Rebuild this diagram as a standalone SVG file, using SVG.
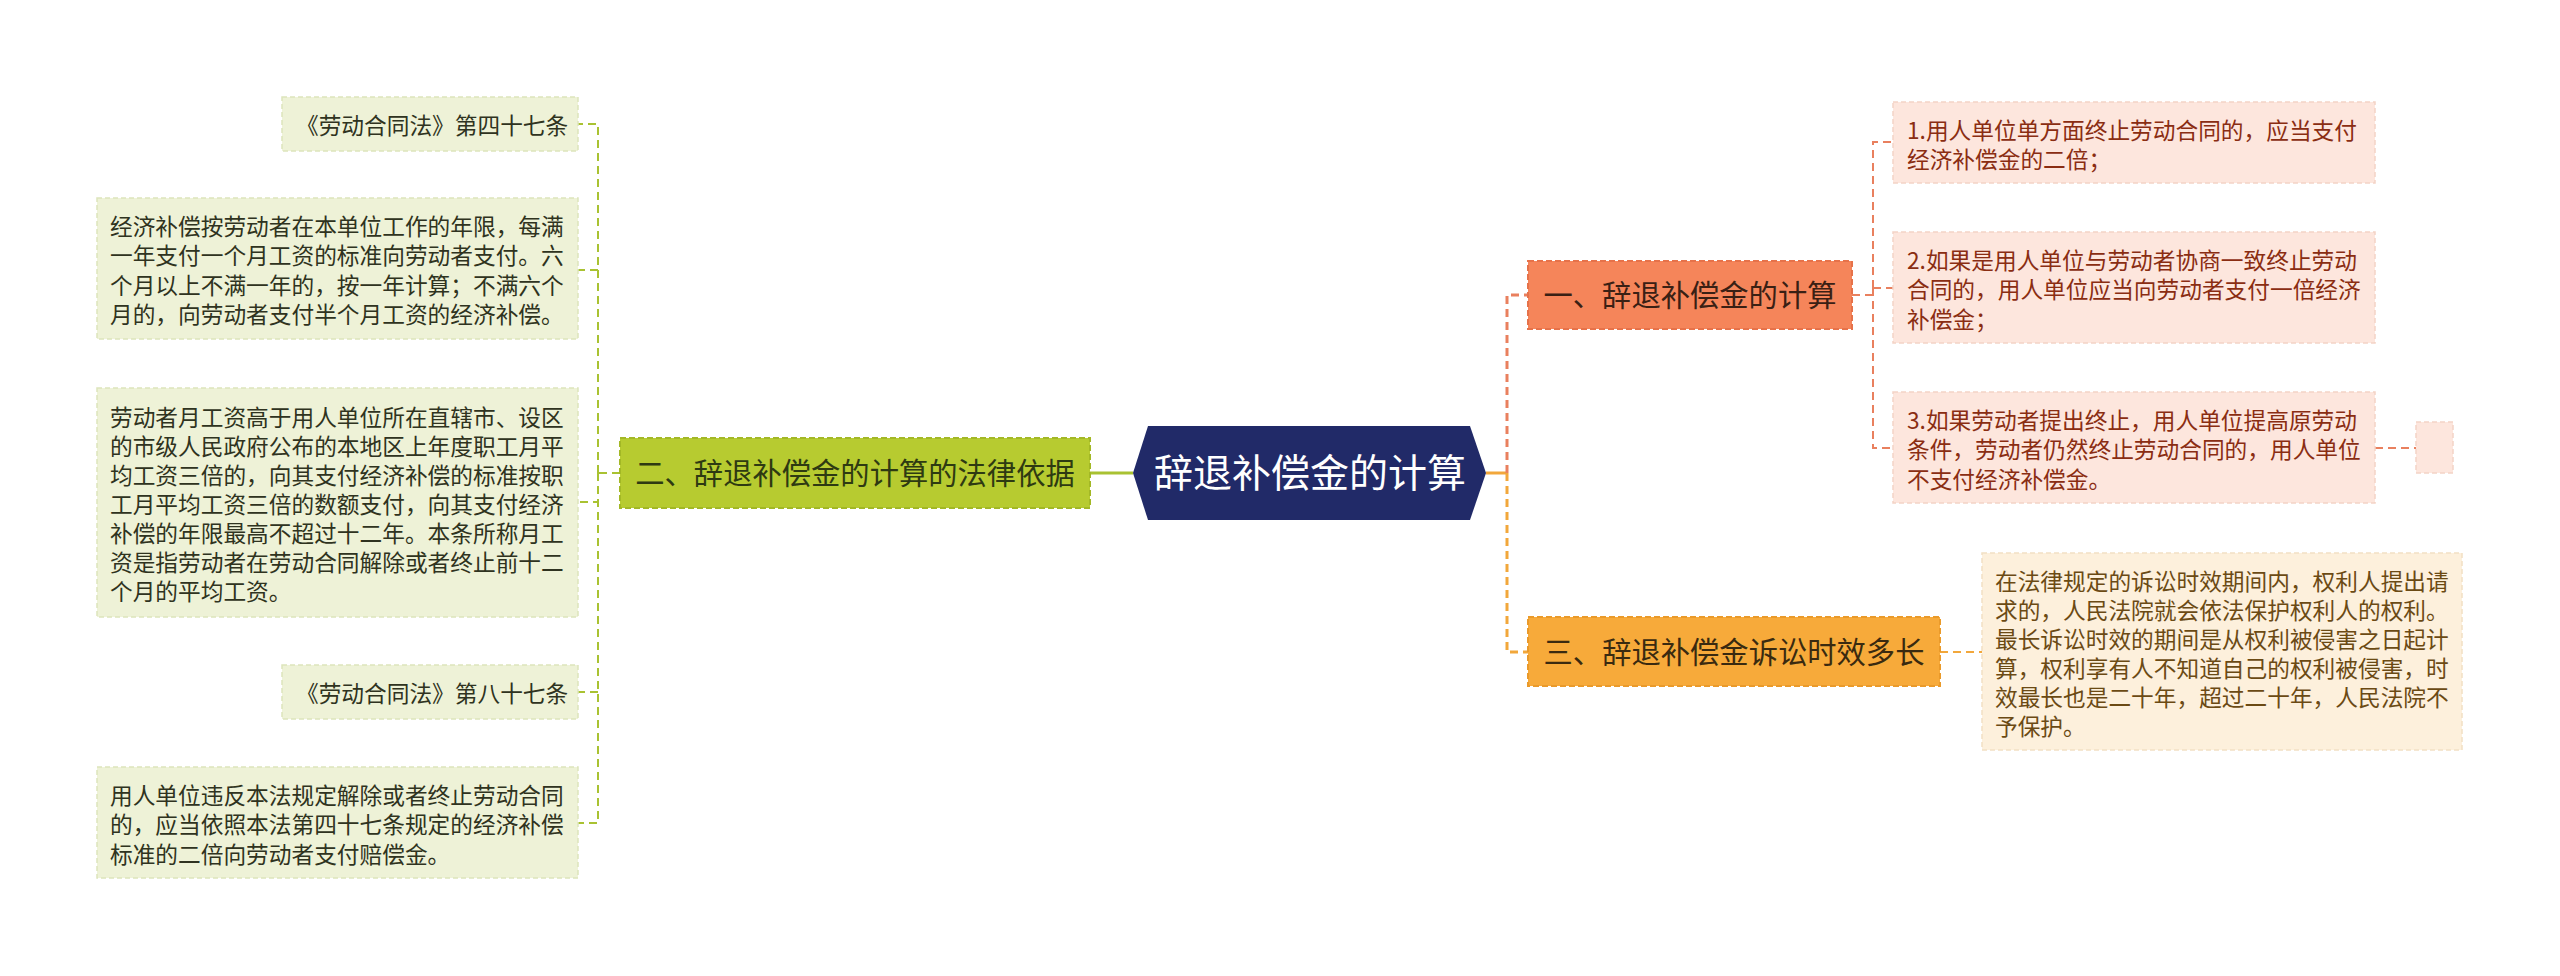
<svg xmlns="http://www.w3.org/2000/svg" width="2560" height="976" viewBox="0 0 2560 976">
<style>
  text { font-family: "Noto Sans CJK SC", "Noto Sans", sans-serif; }
  .leaf { font-size: 22.7px; }
  .ta { fill: #2f3320; }
  .tb { fill: #8a2d12; }
  .tc { fill: #6b4a14; }
  .tn { font-size: 29.3px; text-anchor: middle; }
  .boxA { fill: #eef2d7; stroke: #dde5bc; stroke-width: 1.5; stroke-dasharray: 5 3; }
  .boxB { fill: #fde6dd; stroke: #f4d3c6; stroke-width: 1.5; stroke-dasharray: 5 3; }
  .boxC { fill: #fdf0dc; stroke: #f2e0c4; stroke-width: 1.5; stroke-dasharray: 5 3; }
  .cg { fill: none; stroke: #a9c232; stroke-width: 2; stroke-dasharray: 8 5; }
  .cr { fill: none; stroke: #e9805e; stroke-width: 2; stroke-dasharray: 8 5; }
  .cr3 { fill: none; stroke: #e9805e; stroke-width: 3; stroke-dasharray: 8 5; }
  .co3 { fill: none; stroke: #f2a73b; stroke-width: 3; stroke-dasharray: 8 5; }
  .co { fill: none; stroke: #f2a73b; stroke-width: 2; stroke-dasharray: 8 5; }
</style>
<rect width="2560" height="976" fill="#ffffff"/>

<g id="connectors">
  <!-- left (green) -->
  <path class="cg" d="M620,473 H598"/>
  <path class="cg" d="M598,473 V124 H578"/>
  <path class="cg" d="M598,270 H578"/>
  <path class="cg" d="M598,473 V502 H578"/>
  <path class="cg" d="M598,473 V823 H578"/>
  <path class="cg" d="M598,692 H578"/>
  <path d="M1090,473 H1133" fill="none" stroke="#a9c232" stroke-width="3"/>
  <!-- right (orange) -->
  <path d="M1486,473 H1507" fill="none" stroke="#f2a73b" stroke-width="3"/>
  <path class="cr3" d="M1507,473 V295 H1528"/>
  <path class="co3" d="M1507,473 V652 H1528"/>
  <path class="cr" d="M1852,295 H1873"/>
  <path class="cr" d="M1873,288 V142 H1893"/>
  <path class="cr" d="M1873,288 H1893"/>
  <path class="cr" d="M1873,288 V448 H1893"/>
  <path class="cr" d="M2375,448 H2416"/>
  <path class="co" d="M1940,652 H1982"/>
</g>

<g id="root">
  <polygon points="1133,473 1148,426 1470,426 1486,473 1470,520 1148,520" fill="#212a68"/>
  <text x="1310" y="487" font-size="39" text-anchor="middle" fill="#ffffff">辞退补偿金的计算</text>
</g>

<g id="node-2">
  <rect x="620" y="438" width="470" height="70" fill="#b7cb30" stroke="#a3b826" stroke-width="2" stroke-dasharray="6 3"/>
  <text class="tn" x="855" y="484" fill="#2e3a12">二、辞退补偿金的计算的法律依据</text>
</g>

<g id="node-1">
  <rect x="1528" y="261" width="324" height="68" fill="#f5855a" stroke="#e6724a" stroke-width="2" stroke-dasharray="6 3"/>
  <text class="tn" x="1690" y="306" fill="#3a2014">一、辞退补偿金的计算</text>
</g>

<g id="node-3">
  <rect x="1528" y="617" width="412" height="69" fill="#f7aa3a" stroke="#ea9a2a" stroke-width="2" stroke-dasharray="6 3"/>
  <text class="tn" x="1734" y="663" fill="#3a2a10">三、辞退补偿金诉讼时效多长</text>
</g>

<g id="leaf-a1">
  <rect class="boxA" x="282" y="97" width="296" height="54"/>
  <text class="leaf ta" x="296" y="134">《劳动合同法》第四十七条</text>
</g>

<g id="leaf-a2">
  <rect class="boxA" x="97" y="198" width="481" height="141"/>
  <text class="leaf ta" x="110" y="235">经济补偿按劳动者在本单位工作的年限，每满</text>
  <text class="leaf ta" x="110" y="264.3">一年支付一个月工资的标准向劳动者支付。六</text>
  <text class="leaf ta" x="110" y="293.6">个月以上不满一年的，按一年计算；不满六个</text>
  <text class="leaf ta" x="110" y="322.9">月的，向劳动者支付半个月工资的经济补偿。</text>
</g>

<g id="leaf-a3">
  <rect class="boxA" x="97" y="388" width="481" height="229"/>
  <text class="leaf ta" x="110" y="426">劳动者月工资高于用人单位所在直辖市、设区</text>
  <text class="leaf ta" x="110" y="455">的市级人民政府公布的本地区上年度职工月平</text>
  <text class="leaf ta" x="110" y="484">均工资三倍的，向其支付经济补偿的标准按职</text>
  <text class="leaf ta" x="110" y="513">工月平均工资三倍的数额支付，向其支付经济</text>
  <text class="leaf ta" x="110" y="542">补偿的年限最高不超过十二年。本条所称月工</text>
  <text class="leaf ta" x="110" y="571">资是指劳动者在劳动合同解除或者终止前十二</text>
  <text class="leaf ta" x="110" y="600">个月的平均工资。</text>
</g>

<g id="leaf-a4">
  <rect class="boxA" x="282" y="665" width="296" height="54"/>
  <text class="leaf ta" x="296" y="702">《劳动合同法》第八十七条</text>
</g>

<g id="leaf-a5">
  <rect class="boxA" x="97" y="767" width="481" height="111"/>
  <text class="leaf ta" x="110" y="804">用人单位违反本法规定解除或者终止劳动合同</text>
  <text class="leaf ta" x="110" y="833.3">的，应当依照本法第四十七条规定的经济补偿</text>
  <text class="leaf ta" x="110" y="862.6">标准的二倍向劳动者支付赔偿金。</text>
</g>

<g id="leaf-b1">
  <rect class="boxB" x="1893" y="102" width="482" height="81"/>
  <text class="leaf tb" x="1907" y="139">1.用人单位单方面终止劳动合同的，应当支付</text>
  <text class="leaf tb" x="1907" y="168.3">经济补偿金的二倍；</text>
</g>

<g id="leaf-b2">
  <rect class="boxB" x="1893" y="232" width="482" height="111"/>
  <text class="leaf tb" x="1907" y="269">2.如果是用人单位与劳动者协商一致终止劳动</text>
  <text class="leaf tb" x="1907" y="298.3">合同的，用人单位应当向劳动者支付一倍经济</text>
  <text class="leaf tb" x="1907" y="327.6">补偿金；</text>
</g>

<g id="leaf-b3">
  <rect class="boxB" x="1893" y="392" width="482" height="111"/>
  <text class="leaf tb" x="1907" y="429">3.如果劳动者提出终止，用人单位提高原劳动</text>
  <text class="leaf tb" x="1907" y="458.3">条件，劳动者仍然终止劳动合同的，用人单位</text>
  <text class="leaf tb" x="1907" y="487.6">不支付经济补偿金。</text>
</g>

<g id="leaf-b3-child">
  <rect class="boxB" x="2416" y="422" width="37" height="51"/>
</g>

<g id="leaf-c1">
  <rect class="boxC" x="1982" y="553" width="480" height="197"/>
  <text class="leaf tc" x="1995" y="590">在法律规定的诉讼时效期间内，权利人提出请</text>
  <text class="leaf tc" x="1995" y="619">求的，人民法院就会依法保护权利人的权利。</text>
  <text class="leaf tc" x="1995" y="648">最长诉讼时效的期间是从权利被侵害之日起计</text>
  <text class="leaf tc" x="1995" y="677">算，权利享有人不知道自己的权利被侵害，时</text>
  <text class="leaf tc" x="1995" y="706">效最长也是二十年，超过二十年，人民法院不</text>
  <text class="leaf tc" x="1995" y="735">予保护。</text>
</g>
</svg>
